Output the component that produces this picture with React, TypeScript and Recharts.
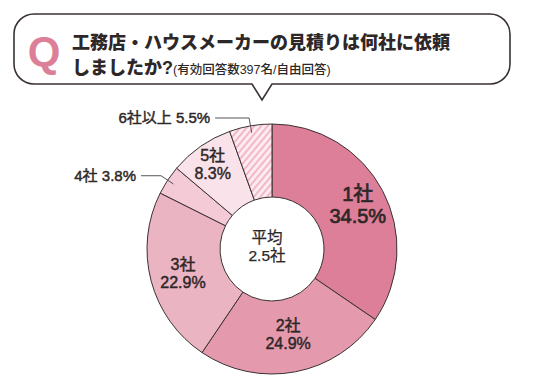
import React from "react";
import { PieChart, Pie, Cell } from "recharts";

const categories = ["1社", "2社", "3社", "4社", "5社", "6社以上"];
const shares = [34.5, 24.9, 22.9, 3.8, 8.3, 5.5];
const sliceColors = ["#dd7f99", "#e599ad", "#ebb4c3", "#f3cad6", "#f9e2e9", "url(#hatch)"];
const averageLabel = ["平均", "2.5社"];

const titleLine1 = "工務店・ハウスメーカーの見積りは何社に依頼";
const titleLine2 = "しましたか?";
const titleNote = "(有効回答数397名/自由回答)";

const data = categories.map((name, i) => ({ name, value: shares[i] }));

const FONT = '"Liberation Sans", "Noto Sans CJK JP", sans-serif';
const INK = "#2e2727";
const RAD = Math.PI / 180;

// per-slice label placement: inside radius, or outside with a leader line
const labelCfg: Record<number, { r?: number; size?: number; out?: number }> = {
  0: { r: 97, size: 20 },
  1: { r: 86 },
  2: { r: 92 },
  3: { out: 20 },
  4: { r: 104 },
  5: { out: 34 },
};

// regular weight plus a thin outline reads as "medium"
const medium = { fill: INK, stroke: INK, strokeWidth: 0.45, fontFamily: FONT, fontWeight: 400 };

function renderLabel(props: any) {
  const { cx, cy, midAngle, outerRadius, index, name, value } = props;
  const cfg = labelCfg[index] || {};
  const cos = Math.cos(-midAngle * RAD);
  const sin = Math.sin(-midAngle * RAD);
  if (cfg.out) {
    const x0 = cx + (outerRadius - 7) * cos;
    const y0 = cy + (outerRadius - 7) * sin;
    const x1 = cx + (outerRadius + 8) * cos;
    const y1 = cy + (outerRadius + 8) * sin;
    const x2 = x1 - cfg.out;
    return (
      <g>
        <polyline points={`${x0},${y0} ${x1},${y1} ${x2},${y1}`} fill="none" stroke="#555" strokeWidth={1} />
        <text x={x2 - 5} y={y1} textAnchor="end" dominantBaseline="central" {...medium} fontSize={15}>
          {`${name} ${value}%`}
        </text>
      </g>
    );
  }
  const r = cfg.r || 90;
  const size = cfg.size || 16;
  const x = cx + r * cos;
  const y = cy + r * sin;
  return (
    <text x={x} y={y} textAnchor="middle" {...medium} strokeWidth={size > 18 ? 0.7 : 0.45} fontSize={size}>
      <tspan x={x} dy={-size * 0.15}>{name}</tspan>
      <tspan x={x} dy={size * 1.1}>{`${value}%`}</tspan>
    </text>
  );
}

export default function App() {
  return (
    <div style={{ position: "absolute", left: 0, top: 0, width: 536, height: 383, background: "#fff" }}>
      <svg width={0} height={0} style={{ position: "absolute" }}>
        <defs>
          <pattern id="hatch" patternUnits="userSpaceOnUse" width={5} height={5} patternTransform="rotate(40)">
            <rect width={5} height={5} fill="#fcebf0" />
            <line x1={1} y1={0} x2={1} y2={5} stroke="#f0a3b6" strokeWidth={1.4} />
          </pattern>
        </defs>
      </svg>

      <svg width={536} height={383} style={{ position: "absolute", left: 0, top: 0 }}>
        <path
          d="M34 14 H490 A20 20 0 0 1 510 34 V64 A20 20 0 0 1 490 84 H272 L262 100 L252 84 H34 A20 20 0 0 1 14 64 V34 A20 20 0 0 1 34 14 Z"
          fill="#fff" stroke="#3a3232" strokeWidth={1.6}
        />
        <text x={44} y={66} textAnchor="middle" fill="#dc7f98" fontFamily={FONT} fontSize={42} fontWeight={700}>Q</text>
        <text x={72} y={49} fill={INK} fontFamily={FONT} fontSize={18} fontWeight={900}>{titleLine1}</text>
        <text x={72} y={74} fill={INK} fontFamily={FONT} fontSize={18} fontWeight={900}>
          {titleLine2}
          <tspan fontSize={12.5} fontWeight={500}>{titleNote}</tspan>
        </text>
      </svg>

      <div style={{ position: "absolute", left: 0, top: 0 }}>
        <PieChart width={536} height={383}>
          <Pie
            data={data}
            dataKey="value"
            nameKey="name"
            cx={267}
            cy={244}
            innerRadius={52}
            outerRadius={125}
            startAngle={90}
            endAngle={-270}
            stroke="#3a3232"
            strokeWidth={1}
            label={renderLabel}
            labelLine={false}
            isAnimationActive={false}
          >
            {data.map((d, i) => (
              <Cell key={d.name} fill={sliceColors[i]} />
            ))}
          </Pie>
        </PieChart>
      </div>

      <svg width={536} height={383} style={{ position: "absolute", left: 0, top: 0, pointerEvents: "none" }}>
        <text x={267} y={243} textAnchor="middle" {...medium} strokeWidth={0.25} fontSize={15.5}>{averageLabel[0]}</text>
        <text x={267} y={261} textAnchor="middle" {...medium} strokeWidth={0.25} fontSize={15.5}>{averageLabel[1]}</text>
      </svg>
    </div>
  );
}
